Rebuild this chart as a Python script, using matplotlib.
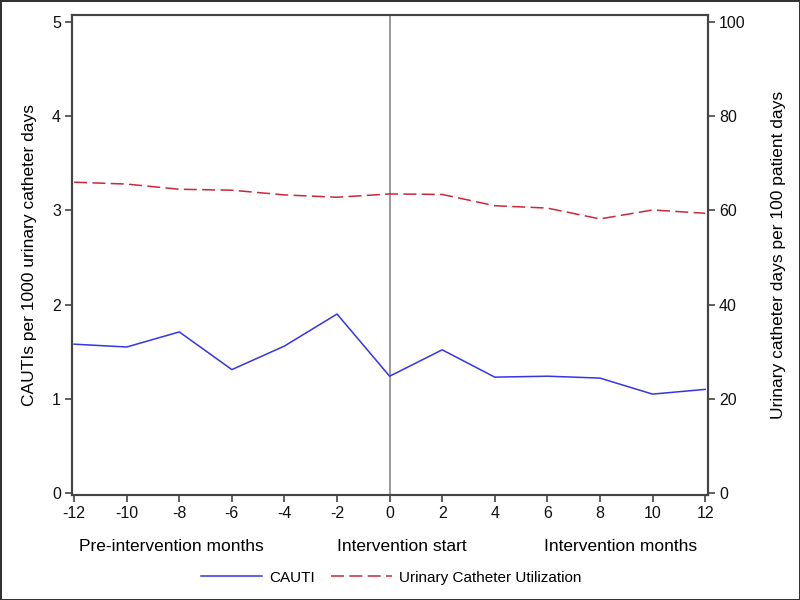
import matplotlib
matplotlib.use("Agg")
import matplotlib.pyplot as plt
from matplotlib.lines import Line2D

plt.rcParams['font.family'] = ['Liberation Sans', 'DejaVu Sans']

# data
months = [-12, -10, -8, -6, -4, -2, 0, 2, 4, 6, 8, 10, 12]
cauti = [1.58, 1.55, 1.71, 1.31, 1.56, 1.90, 1.24, 1.52, 1.23, 1.24, 1.22, 1.05, 1.10]
utilization = [66.0, 65.6, 64.5, 64.3, 63.3, 62.8, 63.5, 63.4, 61.0, 60.5, 58.2, 60.1, 59.4]
x_ticks = list(range(-12, 13, 2))
left_ticks = [0, 1, 2, 3, 4, 5]
right_ticks = [0, 20, 40, 60, 80, 100]

blue = '#3434e8'
red = '#c8283c'
spine_col = '#444444'
dash = (8.5, 3.5)

fig = plt.figure(figsize=(8, 6), dpi=100)
fig.patch.set_edgecolor('#333333')
fig.patch.set_linewidth(2)

ax = fig.add_axes([0.09, 0.175, 0.795, 0.80])
ax2 = ax.twinx()

ax.axvline(0, color='#888888', lw=1.2, zorder=1)
ax.plot(months, cauti, color=blue, lw=1.1, zorder=3)
ax2.plot(months, utilization, color=red, lw=1.1, dashes=dash, zorder=3)

ax.set_xlim(-12.08, 12.11)
ax.set_ylim(-0.021, 5.074)
ax2.set_ylim(-0.42, 101.5)

ax.set_xticks(x_ticks)
ax.set_xticklabels([str(t) for t in x_ticks])
ax.set_yticks(left_ticks)
ax2.set_yticks(right_ticks)

for a in (ax, ax2):
    for s in a.spines.values():
        s.set_color(spine_col)
        s.set_linewidth(1.5)
    a.tick_params(length=5, width=1.2, color=spine_col, labelsize=11.5,
                  labelcolor='#111111', pad=3)

ax.set_ylabel('CAUTIs per 1000 urinary catheter days', fontsize=12.5, labelpad=11)
ax2.set_ylabel('Urinary catheter days per 100 patient days', fontsize=12.5,
               labelpad=18, rotation=90)

# group labels under the x axis
ax.text(0.156, -0.107, 'Pre-intervention months', transform=ax.transAxes,
        ha='center', va='center', fontsize=12.5)
ax.text(0.519, -0.107, 'Intervention start', transform=ax.transAxes,
        ha='center', va='center', fontsize=12.5)
ax.text(0.863, -0.107, 'Intervention months', transform=ax.transAxes,
        ha='center', va='center', fontsize=12.5)

handles = [Line2D([], [], color=blue, lw=1.1),
           Line2D([], [], color=red, lw=1.1, dashes=dash)]
fig.legend(handles, ['CAUTI', 'Urinary Catheter Utilization'],
           loc='center', bbox_to_anchor=(0.489, 0.037), ncol=2, frameon=False,
           fontsize=11, handlelength=4, columnspacing=1.0, handletextpad=0.5)

fig.savefig('out.png', dpi=100, edgecolor=fig.get_edgecolor())
